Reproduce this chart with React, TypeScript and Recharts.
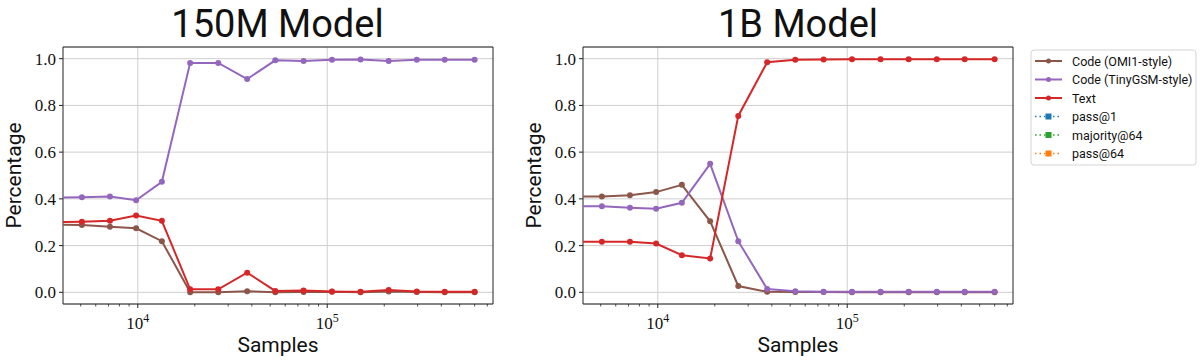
import React from 'react';
import { LineChart, Line, XAxis, YAxis, CartesianGrid, Label, ReferenceArea } from 'recharts';

// ---- data ----
const samples = [3590, 5070, 7130, 9800, 13400, 18900, 26600, 37800, 53200, 75000, 106000, 150000, 211000, 297000, 417000, 600000];

const m150Omi = [0.29, 0.288, 0.281, 0.274, 0.219, 0.0, 0.0, 0.005, 0.0, 0.001, 0.002, 0.0, 0.004, 0.001, 0.0, 0.0];
const m150Tiny = [0.405, 0.407, 0.41, 0.394, 0.473, 0.982, 0.982, 0.913, 0.993, 0.99, 0.995, 0.997, 0.99, 0.995, 0.995, 0.995];
const m150Text = [0.3, 0.302, 0.306, 0.329, 0.306, 0.013, 0.013, 0.084, 0.006, 0.008, 0.003, 0.002, 0.01, 0.004, 0.002, 0.002];

const m1bOmi = [0.41, 0.41, 0.415, 0.429, 0.46, 0.304, 0.027, 0.002, 0.001, 0.001, 0.0, 0.0, 0.0, 0.0, 0.0, 0.0];
const m1bTiny = [0.368, 0.368, 0.362, 0.358, 0.383, 0.55, 0.219, 0.014, 0.005, 0.002, 0.002, 0.002, 0.002, 0.002, 0.002, 0.002];
const m1bText = [0.216, 0.216, 0.216, 0.209, 0.159, 0.145, 0.755, 0.985, 0.995, 0.997, 0.998, 0.998, 0.998, 0.998, 0.998, 0.998];

const titles = ['150M Model', '1B Model'];
const xLabel = 'Samples';
const yLabel = 'Percentage';

const yTicks = [0, 0.2, 0.4, 0.6, 0.8, 1.0];
const xMajor = [10000, 100000];
const xMinor = [5000, 6000, 7000, 8000, 9000, 20000, 30000, 40000, 50000, 60000, 70000, 80000, 90000, 200000, 300000, 400000, 500000, 600000, 700000];
const xDomain = [4030, 750000];
const yDomain = [-0.05, 1.05];

const seriesNames = ['Code (OMI1-style)', 'Code (TinyGSM-style)', 'Text'];
const seriesColors = ['#8c564b', '#9467bd', '#d62728'];
const legendLabels = ['Code (OMI1-style)', 'Code (TinyGSM-style)', 'Text', 'pass@1', 'majority@64', 'pass@64'];
const legendColors = ['#8c564b', '#9467bd', '#d62728', '#1f77b4', '#2ca02c', '#ff7f0e'];
const legendDotted = [false, false, false, true, true, true];

const build = (a: number[], b: number[], c: number[]) =>
  samples.map((s, i) => ({ s, omi: a[i], tiny: b[i], text: c[i] }));

const data150 = build(m150Omi, m150Tiny, m150Text);
const data1b = build(m1bOmi, m1bTiny, m1bText);
const keys = ['omi', 'tiny', 'text'];

const serif = "'Liberation Serif', 'DejaVu Serif', serif";
const sans = "Roboto, 'Noto Sans', sans-serif";
const FRAME = '#222';

const XTick = (props: any) => {
  const { x, y, payload } = props;
  const v = payload.value;
  const major = xMajor.includes(v);
  return (
    <g>
      <line x1={x} x2={x} y1={y} y2={y + (major ? 4 : 2.5)} stroke={FRAME} strokeWidth={major ? 1 : 0.8} />
      {major && (
        <text x={x} y={y + 25} textAnchor="middle" fontFamily={serif} fontSize={17} fill="#111">
          10<tspan dy={-7} fontSize={12}>{Math.round(Math.log10(v))}</tspan>
        </text>
      )}
    </g>
  );
};

const YTick = (props: any) => {
  const { x, y, payload } = props;
  return (
    <g>
      <line x1={x - 4} x2={x} y1={y} y2={y} stroke={FRAME} strokeWidth={1} />
      <text x={x - 7} y={y + 6} textAnchor="end" fontFamily={serif} fontSize={17} fill="#111">
        {Number(payload.value).toFixed(1)}
      </text>
    </g>
  );
};

const Panel = ({ data }: { data: any[] }) => (
  <LineChart width={501} height={363} data={data} margin={{ top: 47, right: 8, bottom: 0, left: 0 }}>
    <CartesianGrid stroke="#cfcfcf" strokeWidth={1} verticalValues={xMajor} />
    <XAxis
      dataKey="s"
      type="number"
      scale="log"
      domain={xDomain}
      allowDataOverflow
      ticks={[...xMinor, ...xMajor].sort((a, b) => a - b)}
      interval={0}
      tick={<XTick />}
      tickLine={false}
      tickSize={0}
      tickMargin={0}
      height={59}
      axisLine={false}
    >
      <Label
        content={(p: any) => {
          const vb = p.viewBox || { x: 63, y: 304, width: 430, height: 59 };
          return (
            <text x={vb.x + vb.width / 2} y={vb.y + 48} textAnchor="middle" fontFamily={sans} fontSize={21} fill="#111">
              {xLabel}
            </text>
          );
        }}
      />
    </XAxis>
    <YAxis
      type="number"
      domain={yDomain}
      allowDataOverflow
      ticks={yTicks}
      width={63}
      tickSize={0}
      tickMargin={0}
      tickLine={false}
      axisLine={false}
      tick={<YTick />}
    >
      <Label
        content={(p: any) => {
          const vb = p.viewBox || { x: 0, y: 47, width: 63, height: 257 };
          const cx = vb.x + 21;
          const cy = vb.y + vb.height / 2;
          return (
            <text x={cx} y={cy} transform={`rotate(-90 ${cx} ${cy})`} textAnchor="middle" fontFamily={sans} fontSize={21} fill="#111">
              {yLabel}
            </text>
          );
        }}
      />
    </YAxis>
    <ReferenceArea
      x1={xDomain[0]}
      x2={xDomain[1]}
      y1={yDomain[0]}
      y2={yDomain[1]}
      fill="none"
      fillOpacity={0}
      stroke={FRAME}
      strokeWidth={1}
      strokeOpacity={1}
      ifOverflow="visible"
    />
    {keys.map((k, i) => (
      <Line
        key={k}
        dataKey={k}
        name={seriesNames[i]}
        stroke={seriesColors[i]}
        strokeWidth={2}
        dot={{ r: 3, fill: seriesColors[i], stroke: seriesColors[i], strokeWidth: 0 }}
        isAnimationActive={false}
      />
    ))}
  </LineChart>
);

const Legend = () => (
  <svg width={1200} height={363} style={{ position: 'absolute', left: 0, top: 0, pointerEvents: 'none' }}>
    <text x={277.5} y={37} textAnchor="middle" fontFamily={sans} fontSize={38} fill="#111">{titles[0]}</text>
    <text x={798} y={37} textAnchor="middle" fontFamily={sans} fontSize={38} fill="#111">{titles[1]}</text>
    <rect x={1031} y={50} width={165} height={115} rx={3} fill="#fff" stroke="#d4d4d4" strokeWidth={1} />
    {legendLabels.map((lab, i) => {
      const cy = 61 + i * 18.5;
      const c = legendColors[i];
      return (
        <g key={lab}>
          <line x1={1035} x2={1062} y1={cy} y2={cy} stroke={c} strokeWidth={legendDotted[i] ? 1.6 : 2} strokeDasharray={legendDotted[i] ? '1.5 3' : undefined} />
          {legendDotted[i] ? (
            <rect x={1045.5} y={cy - 3} width={6} height={6} fill={c} />
          ) : (
            <circle cx={1048.5} cy={cy} r={2.5} fill={c} />
          )}
          <text x={1072} y={cy + 4.5} fontFamily={sans} fontSize={12.5} fill="#111">{lab}</text>
        </g>
      );
    })}
  </svg>
);

export default function App() {
  return (
    <div style={{ position: 'absolute', left: 0, top: 0, width: 1200, height: 363, background: '#fff', overflow: 'hidden' }}>
      <div style={{ position: 'absolute', left: 0, top: 0 }}>
        <Panel data={data150} />
      </div>
      <div style={{ position: 'absolute', left: 520, top: 0 }}>
        <Panel data={data1b} />
      </div>
      <Legend />
    </div>
  );
}
